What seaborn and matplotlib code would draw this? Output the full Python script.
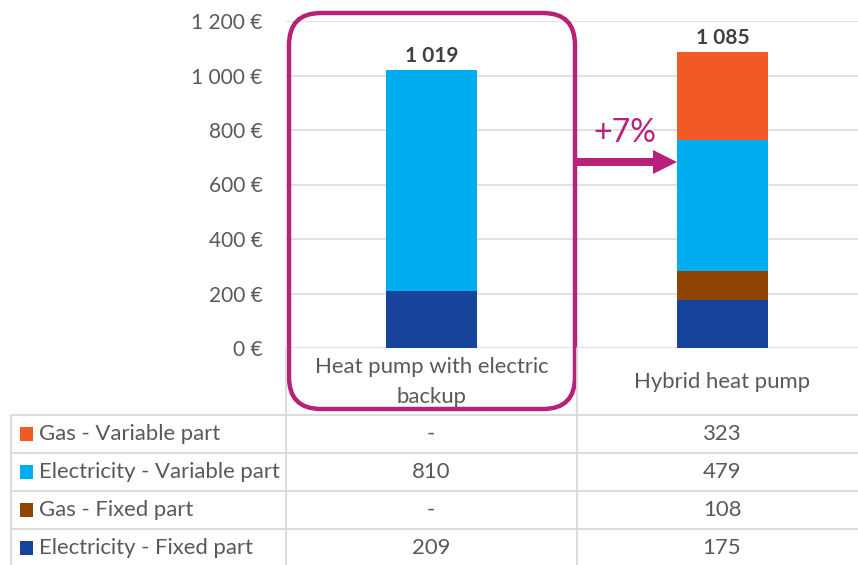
import numpy as np
import pandas as pd
import matplotlib
matplotlib.use("Agg")
import matplotlib.pyplot as plt
import seaborn as sns
from matplotlib.patches import FancyBboxPatch, FancyArrow, Rectangle

# ---------------- data ----------------
categories = ["Heat pump with electric\nbackup", "Hybrid heat pump"]
series_names = ["Gas - Variable part", "Electricity - Variable part",
                "Gas - Fixed part", "Electricity - Fixed part"]  # table order (top -> bottom)
gas_variable = [0, 323]
elec_variable = [810, 479]
gas_fixed = [0, 108]
elec_fixed = [209, 175]
series_colors = ["#F15A24", "#00AEEF", "#8E4503", "#17449A"]
yticks = [0, 200, 400, 600, 800, 1000, 1200]
ytick_labels = ["0 €", "200 €", "400 €", "600 €", "800 €", "1 000 €", "1 200 €"]
increase_label = "+7%"

# ---------------- style ----------------
sns.set_theme(style="white")
plt.rcParams["font.family"] = ["Lato", "DejaVu Sans"]
FS = 15
FS_T = 15.9
GRAY = "#595959"
GRID = "#D9D9D9"
MAGENTA = "#B8217A"

W, H = 858, 565
fig = plt.figure(figsize=(W / 100, H / 100), dpi=100)
ax = fig.add_axes([286 / W, 1 - 348 / H, (W - 286) / W, 327 / H])

# stacked bars (bottom -> top): elec_fixed, gas_fixed, elec_variable, gas_variable
stack_order = [elec_fixed, gas_fixed, elec_variable, gas_variable]
stack_colors = [series_colors[3], series_colors[2], series_colors[1], series_colors[0]]
cum = np.cumsum(np.array(stack_order, dtype=float), axis=0)
cat_plain = [c.replace("\n", " ") for c in categories]
for layer in range(len(stack_order) - 1, -1, -1):
    df = pd.DataFrame({"cat": cat_plain, "val": cum[layer]})
    sns.barplot(data=df, x="cat", y="val", order=cat_plain, color=stack_colors[layer],
                saturation=1, width=0.313, errorbar=None, ax=ax, zorder=3, linewidth=0)

totals = cum[-1]
for i, t in enumerate(totals):
    ax.annotate(f"{int(t):,}".replace(",", " "), (i, t), xytext=(0, 3),
                textcoords="offset points", ha="center", va="bottom",
                fontsize=FS, fontweight="bold", color="#404040")

ax.set_ylim(0, 1200)
ax.set_xlim(-0.5, -0.5 + (W - 286) / 291)
ax.set_yticks(yticks, ytick_labels)
ax.set_xticks([])
ax.set_xlabel("")
ax.set_ylabel("")
ax.tick_params(axis="y", length=0, pad=17, labelsize=FS, labelcolor=GRAY)
ax.grid(axis="y", color=GRID, linewidth=1.1, zorder=0)
ax.set_axisbelow(True)
for s in ax.spines.values():
    s.set_visible(False)

# category labels (table header)
for i, c in enumerate(categories):
    ax.text(i, -0.104, c, transform=ax.get_xaxis_transform(), ha="center", va="center",
            fontsize=FS_T, color=GRAY, linespacing=1.6)

# ---------------- overlay (pixel coords) ----------------
ov = fig.add_axes([0, 0, 1, 1], zorder=5)
ov.set_xlim(0, W)
ov.set_ylim(H, 0)
ov.axis("off")
ov.patch.set_alpha(0)

# table lines
for y in [415, 453, 491, 529]:
    ov.plot([11, W], [y, y], color=GRID, lw=1.3, solid_capstyle="butt")
ov.plot([11, 11], [415, H], color=GRID, lw=1.3)
ov.plot([286, 286], [348, H], color=GRID, lw=1.3)
ov.plot([577, 577], [348, H], color=GRID, lw=1.3)

row_y = [434, 472, 510, 548]
series_vals = [gas_variable, elec_variable, gas_fixed, elec_fixed]
for r, (name, vals, col) in enumerate(zip(series_names, series_vals, series_colors)):
    y = row_y[r]
    ov.add_patch(Rectangle((20, y - 7), 13, 14, color=col, lw=0))
    ov.text(39, y, name, ha="left", va="center", fontsize=FS_T, color=GRAY)
    for j, v in enumerate(vals):
        ov.text([431, 722][j], y, "-" if v == 0 else f"{v}", ha="center", va="center",
                fontsize=FS_T, color=GRAY)

# highlight box
ov.add_patch(FancyBboxPatch((289, 13), 286, 396,
                            boxstyle="round,pad=0,rounding_size=32",
                            fill=False, edgecolor=MAGENTA, lw=3.2))
# arrow
ov.add_patch(FancyArrow(575, 162, 102, 0, width=8, head_width=24, head_length=24,
                        length_includes_head=True, color=MAGENTA, lw=0))
ov.text(625, 133, increase_label, ha="center", va="center", fontsize=23, color=MAGENTA)

fig.savefig("out.png", dpi=100)
